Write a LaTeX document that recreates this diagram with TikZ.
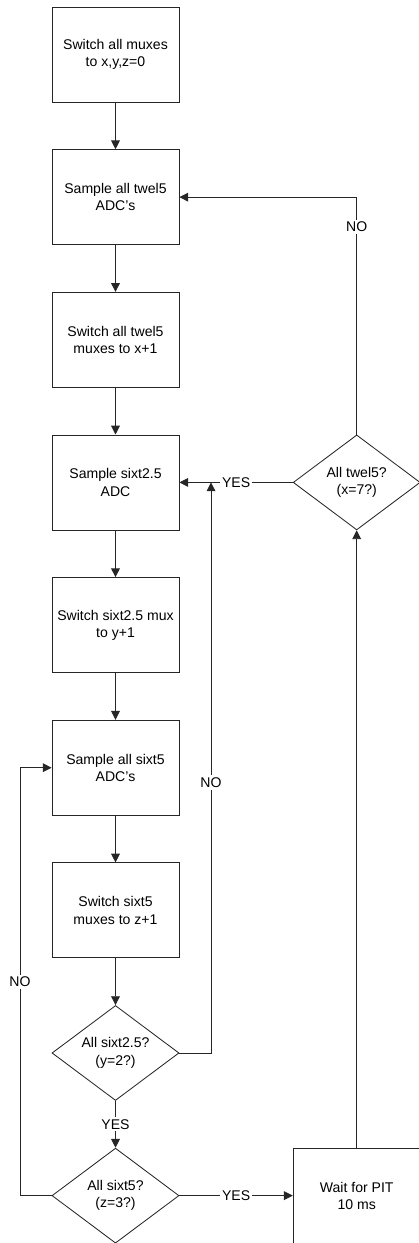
\documentclass[tikz,border=0pt]{standalone}
\usepackage{fontspec}
\setmainfont{Liberation Sans}
\usetikzlibrary{positioning,shapes.geometric,arrows.meta}

\begin{document}
\begin{tikzpicture}[node distance=3.566cm,
    every node/.style={font=\fontsize{10}{12.3}\selectfont, align=center},
    box/.style={rectangle, draw=black!85, line width=0.6pt, minimum width=3.175cm, minimum height=2.375cm},
    decision/.style={diamond, draw=black!85, line width=0.6pt, aspect=1.337, inner sep=1pt, minimum width=3.175cm, minimum height=2.375cm},
    lbl/.style={fill=white, inner sep=1.5pt},
    arr/.style={draw=black!85, line width=0.6pt, -{Triangle[width=0.22cm, length=0.22cm]}}]
    \useasboundingbox (-2.8875,1.3625) rectangle (7.5875,-29.7125);

    % Bloki
    \node[box] (b1) {Switch all muxes\\to x,y,z=0};
    \node[box] (b2) [below of=b1] {Sample all twel5\\ADC's};
    \node[box] (b3) [below of=b2] {Switch all twel5\\muxes to x+1};
    \node[box] (b4) [below of=b3] {Sample sixt2.5\\ADC};
    \node[box] (b5) [below of=b4] {Switch sixt2.5 mux\\to y+1};
    \node[box] (b6) [below of=b5] {Sample all sixt5\\ADC's};
    \node[box] (b7) [below of=b6] {Switch sixt5\\muxes to z+1};

    % Decyzje
    \node[decision] (d1) [below of=b7] {All sixt2.5?\\(y=2?)};
    \node[decision] (d2) [below of=d1] {All sixt5?\\(z=3?)};
    \node[box] (wt) [right of=d2, node distance=6.03cm] {Wait for PIT\\10 ms};
    \node[decision] (tw) [right of=b4, node distance=6.03cm] {All twel5?\\(x=7?)};
    \coordinate (j1) at ([xshift=0.79cm]b4.east);

    % Połączenia w dół
    \draw[arr] (b1) -- (b2);
    \draw[arr] (b2) -- (b3);
    \draw[arr] (b3) -- (b4);
    \draw[arr] (b4) -- (b5);
    \draw[arr] (b5) -- (b6);
    \draw[arr] (b6) -- (b7);
    \draw[arr] (b7) -- (d1);
    \draw[arr] (d1) -- node[lbl]{YES} (d2);

    % Pętle
    \draw[arr] (d1.east) -| node[lbl, pos=0.737]{NO} (j1);
    \draw[arr] (d2.west) -- ++(-0.79,0) |- node[lbl, pos=0.25]{NO} (b6.west);
    \draw[arr] (d2.east) -- node[lbl]{YES} (wt.west);
    \draw[arr] (wt.north) -- (tw.south);
    \draw[arr] (tw.west) -- node[lbl]{YES} (b4.east);
    \draw[arr] (tw.north) |- node[lbl, pos=0.437]{NO} (b2.east);
\end{tikzpicture}
\end{document}
